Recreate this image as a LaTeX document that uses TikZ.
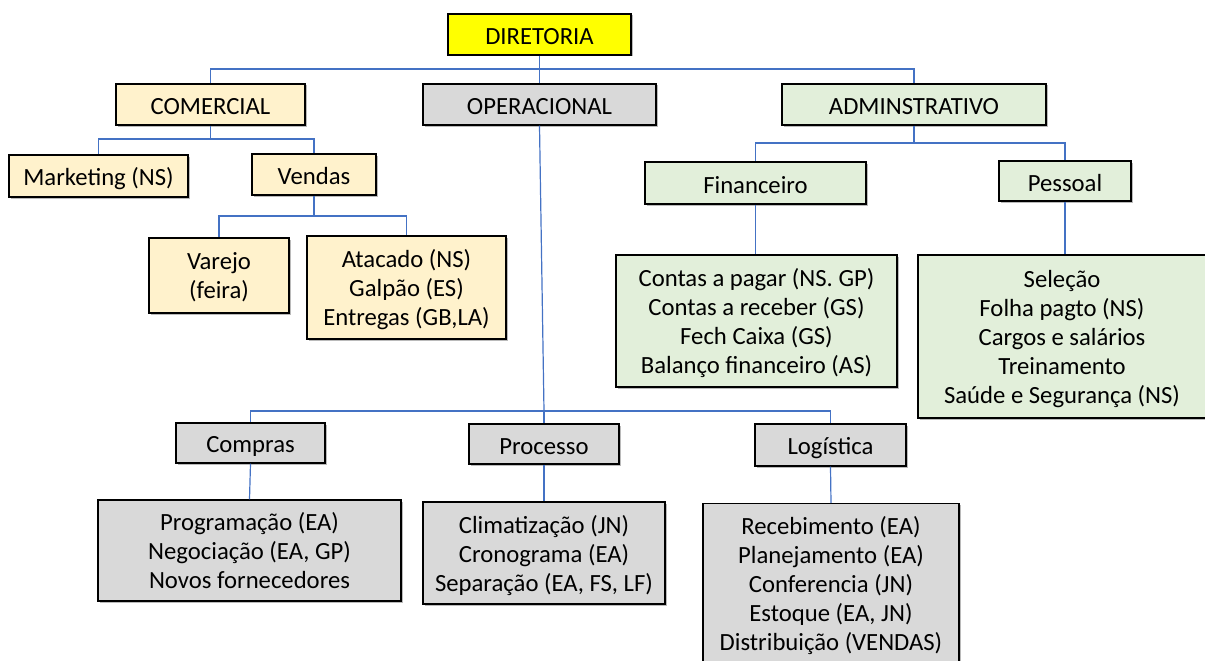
\documentclass[tikz,border=0pt]{standalone}
\usepackage{fontspec}
\setmainfont{Carlito}
\usetikzlibrary{shadows}
\definecolor{cbeige}{HTML}{FFF2CC}
\definecolor{cgrey}{HTML}{D9D9D9}
\definecolor{cgreen}{HTML}{E2EFDA}
\definecolor{cyel}{HTML}{FFFF00}
\definecolor{cblue}{HTML}{4472C4}
\tikzset{
  box/.style={draw=black, line width=1.2pt, inner sep=0pt, align=center,
    font=\fontsize{24.7}{29}\selectfont,
    execute at begin node={\vrule width 0pt height 23pt depth 0pt},
    execute at end node={\vrule width 0pt height 0pt depth 3pt},
    drop shadow={shadow xshift=1.5pt, shadow yshift=-1.5pt, fill=black!45, opacity=0.6}},
  multi/.style={text depth=-2.5pt},
  beige/.style={box, fill=cbeige},
  grey/.style={box, fill=cgrey},
  green/.style={box, fill=cgreen},
  yel/.style={box, fill=cyel},
  conn/.style={draw=cblue, line width=1.2pt}
}
\begin{document}
\begin{tikzpicture}[x=1pt,y=-1pt]
\useasboundingbox (0,0) rectangle (1205,661);
% top
\node[yel, minimum width=183, minimum height=41] (dir) at (539.5,34.5) {DIRETORIA};
\node[beige, minimum width=189, minimum height=41] (com) at (210.5,104.5) {COMERCIAL};
\node[grey, minimum width=233, minimum height=41] (ope) at (539.5,104.5) {OPERACIONAL};
\node[green, minimum width=264, minimum height=41] (adm) at (914,104.5) {ADMINSTRATIVO};
% comercial
\node[beige, minimum width=179, minimum height=42] (mkt) at (98.5,176) {Marketing (NS)};
\node[beige, minimum width=124, minimum height=41] (ven) at (314,174.5) {Vendas};
\node[beige, multi, minimum width=140, minimum height=75] (var) at (219,275.5) {Varejo\\(feira)};
\node[beige, multi, minimum width=199, minimum height=103] (ata) at (406.5,287.5) {Atacado (NS)\\Galpão (ES)\\Entregas (GB,LA)};
% administrativo
\node[green, minimum width=221, minimum height=42] (fin) at (755.5,183) {Financeiro};
\node[green, minimum width=132, minimum height=40] (pes) at (1065,181) {Pessoal};
\node[green, multi, minimum width=281, minimum height=132] (con) at (756.5,321) {Contas a pagar (NS. GP)\\Contas a receber (GS)\\Fech Caixa (GS)\\Balanço financeiro (AS)};
\node[green, multi, minimum width=288, minimum height=163] (sel) at (1062,336.5) {Seleção\\Folha pagto (NS)\\Cargos e salários\\Treinamento\\Saúde e Segurança (NS)};
% operacional
\node[grey, minimum width=149, minimum height=40] (cmp) at (250.5,443) {Compras};
\node[grey, minimum width=150, minimum height=40] (pro) at (544,444) {Processo};
\node[grey, minimum width=151, minimum height=42] (log) at (830.5,445) {Logística};
\node[grey, multi, minimum width=303, minimum height=101] (cml) at (249.5,550.5) {Programação (EA)\\Negociação (EA, GP)\\Novos fornecedores};
\node[grey, multi, minimum width=242, minimum height=102] (prl) at (544,553) {Climatização (JN)\\Cronograma (EA)\\Separação (EA, FS, LF)};
\node[grey, multi, minimum width=256, minimum height=160, anchor=north] (lgl) at (831,503) {Recebimento (EA)\\Planejamento (EA)\\Conferencia (JN)\\Estoque (EA, JN)\\Distribuição (VENDAS)};
% junctions
\coordinate (j0) at (539.5,69);
\coordinate (j1) at (210.5,139);
\coordinate (j2) at (314,216);
\coordinate (j3) at (914,143);
\coordinate (j4) at (544,411);
% connectors
\draw[conn] (dir.south) -- (j0);
\draw[conn] (j0) -| (com.north);
\draw[conn] (j0) -- (ope.north);
\draw[conn] (j0) -| (adm.north);
\draw[conn] (com.south) -- (j1);
\draw[conn] (j1) -| (mkt.north);
\draw[conn] (j1) -| (ven.north);
\draw[conn] (ven.south) -- (j2);
\draw[conn] (j2) -| (var.north);
\draw[conn] (j2) -| (ata.north);
\draw[conn] (adm.south) -- (j3);
\draw[conn] (j3) -| (fin.north);
\draw[conn] (j3) -| (pes.north);
\draw[conn] (fin.south) -- (con.north -| fin.south);
\draw[conn] (pes.south) -- (sel.north -| pes.south);
\draw[conn] (ope.south) -- (j4);
\draw[conn] (j4) -| (cmp.north);
\draw[conn] (j4) -- (pro.north);
\draw[conn] (j4) -| (log.north);
\draw[conn] (cmp.south) -- (cml.north);
\draw[conn] (pro.south) -- (prl.north);
\draw[conn] (log.south) -- (lgl.north);
\end{tikzpicture}
\end{document}
